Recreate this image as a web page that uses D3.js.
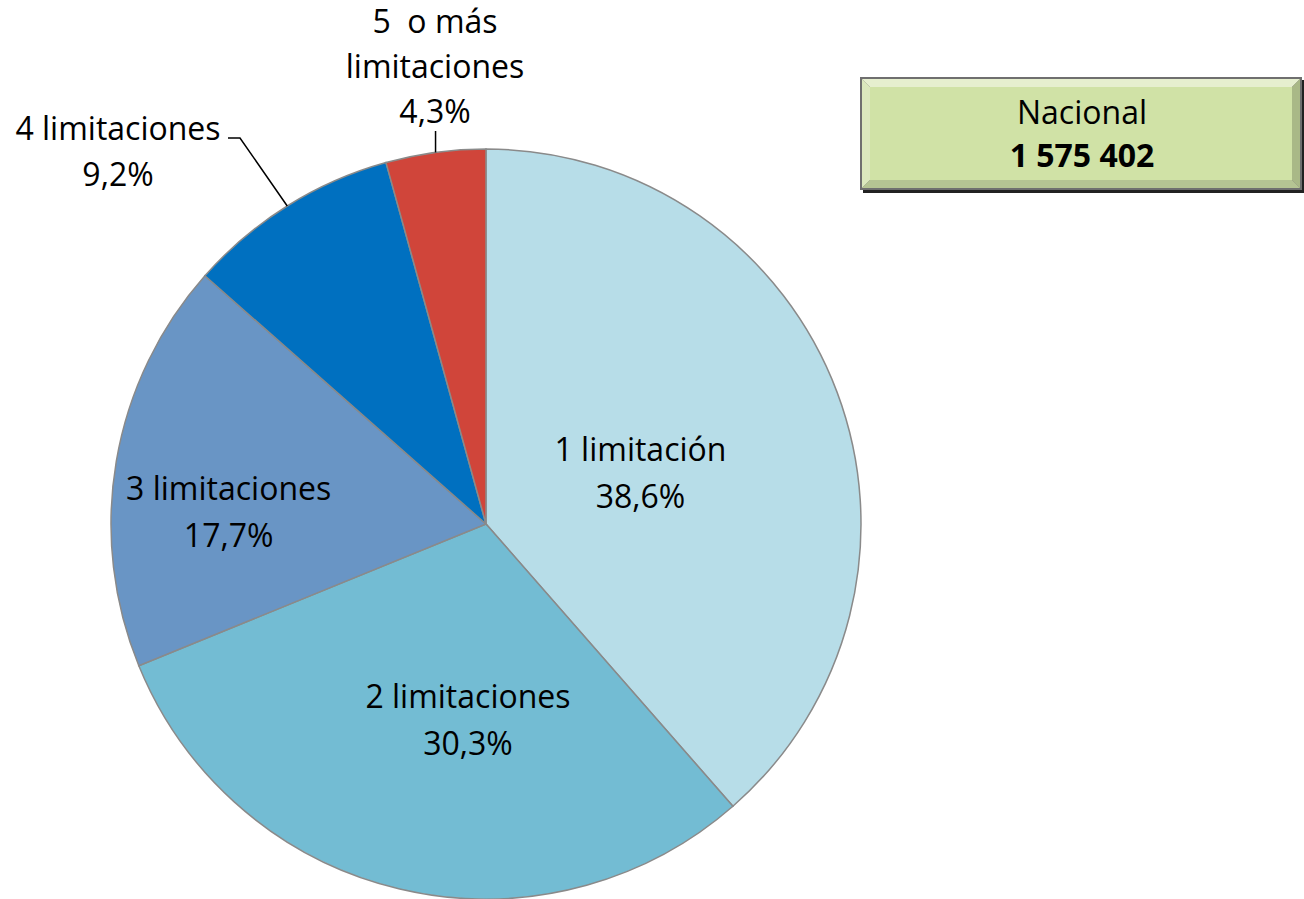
<!DOCTYPE html>
<html>
<head>
<meta charset="utf-8">
<script src="https://cdn.jsdelivr.net/npm/d3@7"></script>
<style>
  body { margin: 0; background: #fff; }
  svg { display: block; font-family: "Open Sans", Lato, sans-serif; }
</style>
</head>
<body>
<div id="chart"></div>
<script>
// data
const categories = ['1 limitación', '2 limitaciones', '3 limitaciones', '4 limitaciones', '5  o más limitaciones']
const values = [38.6, 30.3, 17.7, 9.2, 4.3]
const colors = ['#b7dde8', '#73bcd3', '#6995c5', '#0070c0', '#d0453a']
const totalLabel = 'Nacional'
const totalValue = '1 575 402'

var width = 1304
var height = 899
var cx = 486, cy = 524, r = 375

var svg = d3.select('#chart').append('svg')
    .attr('width', width)
    .attr('height', height)

var slices = categories.map(function (c, i) { return { name: c, value: values[i], color: colors[i] } })

var pie = d3.pie().sort(null).value(function (d) { return d.value })
var arc = d3.arc().innerRadius(0).outerRadius(r)
var arcs = pie(slices)

var g = svg.append('g').attr('transform', 'translate(' + cx + ',' + cy + ')')

g.selectAll('path')
    .data(arcs)
    .enter().append('path')
    .attr('d', arc)
    .attr('fill', function (d) { return d.data.color })
    .attr('stroke', '#8a8a8a')
    .attr('stroke-width', 1.5)

function fmt(v) { return d3.format('.1f')(v).replace('.', ',') + '%' }

// inside labels: radius + nudge per slice (layout only)
var insideR = [165, 200, 258]
var nudge = [[0, 8], [28, 2], [-3, 32]]
var fs = 32, lh = 47
arcs.slice(0, 3).forEach(function (d, i) {
    var a = (d.startAngle + d.endAngle) / 2
    var x = Math.sin(a) * insideR[i] + nudge[i][0]
    var y = -Math.cos(a) * insideR[i] + nudge[i][1]
    var t = g.append('text')
        .attr('text-anchor', 'middle')
        .attr('font-size', fs)
        .attr('fill', '#000')
    t.append('tspan').attr('x', x).attr('y', y - lh / 2 + 11).text(d.data.name)
    t.append('tspan').attr('x', x).attr('y', y + lh / 2 + 11).text(fmt(d.data.value))
})

// outside labels with leader lines
function edge(d) {
    var a = (d.startAngle + d.endAngle) / 2
    return [Math.sin(a) * r, -Math.cos(a) * r]
}

var d4 = arcs[3]
var e4 = edge(d4)
g.append('polyline')
    .attr('points', [[e4[0], e4[1]], [240 - cx, 138 - cy], [228 - cx, 138 - cy]].join(' '))
    .attr('fill', 'none').attr('stroke', '#000').attr('stroke-width', 1.5)
var t4 = svg.append('text').attr('text-anchor', 'middle').attr('font-size', fs)
t4.append('tspan').attr('x', 118).attr('y', 140).text(d4.data.name)
t4.append('tspan').attr('x', 118).attr('y', 186).text(fmt(d4.data.value))

var d5 = arcs[4]
var e5 = edge(d5)
g.append('line')
    .attr('x1', e5[0]).attr('y1', e5[1])
    .attr('x2', e5[0]).attr('y2', 131 - cy)
    .attr('stroke', '#000').attr('stroke-width', 1.5)
var t5 = svg.append('text').attr('text-anchor', 'middle').attr('font-size', fs)
t5.append('tspan').attr('x', 435).attr('y', 33).attr('xml:space', 'preserve').text('5  o más')
t5.append('tspan').attr('x', 435).attr('y', 78).text('limitaciones')
t5.append('tspan').attr('x', 435).attr('y', 123).text(fmt(d5.data.value))

// total box with bevel
var bx = 860, by = 77, bw = 442, bh = 113, bv = 8
var box = svg.append('g')
box.append('rect').attr('x', bx + 3).attr('y', by + 3).attr('width', bw).attr('height', bh).attr('fill', '#222')
box.append('rect').attr('x', bx).attr('y', by).attr('width', bw).attr('height', bh).attr('fill', '#6f6f6f')
var ix = bx + 2, iy = by + 2, iw = bw - 4, ih = bh - 4
// bevel sides
box.append('polygon').attr('fill', '#e6efcf')
    .attr('points', [[ix, iy], [ix + iw, iy], [ix + iw - bv, iy + bv], [ix + bv, iy + bv]].join(' '))
box.append('polygon').attr('fill', '#dbe8bd')
    .attr('points', [[ix, iy], [ix + bv, iy + bv], [ix + bv, iy + ih - bv], [ix, iy + ih]].join(' '))
box.append('polygon').attr('fill', '#a9b887')
    .attr('points', [[ix + iw, iy], [ix + iw, iy + ih], [ix + iw - bv, iy + ih - bv], [ix + iw - bv, iy + bv]].join(' '))
box.append('polygon').attr('fill', '#b5c493')
    .attr('points', [[ix, iy + ih], [ix + bv, iy + ih - bv], [ix + iw - bv, iy + ih - bv], [ix + iw, iy + ih]].join(' '))
box.append('rect').attr('x', ix + bv).attr('y', iy + bv).attr('width', iw - 2 * bv).attr('height', ih - 2 * bv).attr('fill', '#d0e2a6')

box.append('text').attr('x', bx + bw / 2 + 1).attr('y', by + 47).attr('text-anchor', 'middle')
    .attr('font-size', fs).text(totalLabel)
box.append('text').attr('x', bx + bw / 2 + 1).attr('y', by + 90).attr('text-anchor', 'middle')
    .attr('font-size', fs).attr('font-weight', 'bold').text(totalValue)
</script>
</body>
</html>
